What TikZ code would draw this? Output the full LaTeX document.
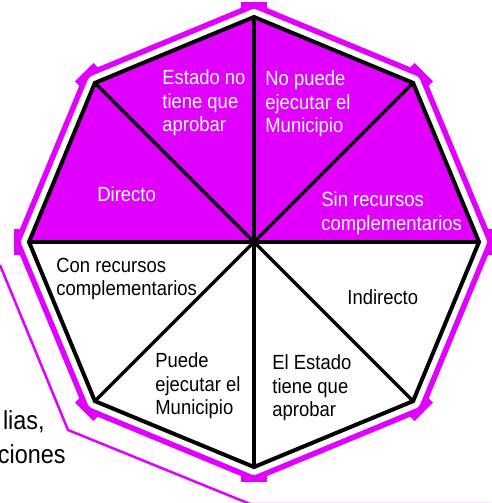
\documentclass[tikz,border=0pt]{standalone}
\usepackage{fontspec}
\setmainfont[FakeStretch=0.9]{Liberation Sans}
\usepackage{tikz}
\tikzset{every picture/.style={line width=0.75pt}}
\definecolor{octmagenta}{RGB}{225,0,255}

\tikzset{
  rim/.style={draw=octmagenta, line width=5.5pt, line join=miter},
  notch/.style={draw=octmagenta, line width=7.5pt},
  spoke/.style={draw=black, line width=3.5pt},
  sectortext/.style={font=\fontsize{20.5}{23.5}\selectfont, align=left, inner sep=0pt, anchor=west},
  sidetext/.style={font=\fontsize{26}{34}\selectfont, inner sep=0pt, anchor=base east},
}

\begin{document}
\begin{tikzpicture}[x=1pt,y=1pt,yscale=-1,xscale=1]
	\useasboundingbox (0,0) rectangle (491,503);
	
	%Points of the octagon
	\coordinate (c) at (254,242);
	\coordinate (vt) at (254,17);
	\coordinate (vur) at (413.1,82.9);
	\coordinate (vr) at (479,242);
	\coordinate (vlr) at (413.1,401.1);
	\coordinate (vb) at (254,467);
	\coordinate (vll) at (94.9,401.1);
	\coordinate (vl) at (29,242);
	\coordinate (vul) at (94.9,82.9);
	
	%Shape: Polyline (outer thin frame)
	\draw [draw=octmagenta, line width=2.5pt] (0,265) -- (68,430) -- (250,504) -- (491,504) ;
	
	%Shape: Polygon (outer rim)
	\draw [rim] (254,5.5) -- (421.2,74.8) -- (490.5,242) -- (421.2,409.2) -- (254,478.5) -- (86.8,409.2) -- (17.5,242) -- (86.8,74.8) -- cycle ;
	%Rim notches
	\draw [notch] (241,5.5) -- (267,5.5) ;
	\draw [notch] (241,478.5) -- (267,478.5) ;
	\draw [notch] (17.5,229) -- (17.5,255) ;
	\draw [notch] (490.5,229) -- (490.5,255) ;
	\draw [notch] (412,65.6) -- (430.4,84) ;
	\draw [notch] (77.6,400) -- (96,418.4) ;
	\draw [notch] (77.6,84) -- (96,65.6) ;
	\draw [notch] (412,418.4) -- (430.4,400) ;
	
	%Shape: Polygon (upper half filled)
	\fill [octmagenta] (vl) -- (vul) -- (vt) -- (vur) -- (vr) -- (c) -- cycle ;
	
	%Spokes
	\draw [spoke] (c) -- (vt) ;
	\draw [spoke] (c) -- (vur) ;
	\draw [spoke] (c) -- (vr) ;
	\draw [spoke] (c) -- (vlr) ;
	\draw [spoke] (c) -- (vb) ;
	\draw [spoke] (c) -- (vll) ;
	\draw [spoke] (c) -- (vl) ;
	\draw [spoke] (c) -- (vul) ;
	
	%Shape: Polygon (octagon outline)
	\draw [line width=4pt, line join=miter] (vt) -- (vur) -- (vr) -- (vlr) -- (vb) -- (vll) -- (vl) -- (vul) -- cycle ;
	
	% Text Node
	\node [sectortext, text=white] (estadono) at (162,103) {Estado no\\tiene que\\aprobar};
	% Text Node
	\node [sectortext, text=white] (nopuede) at (265,104) {No puede\\ejecutar el\\Municipio};
	% Text Node
	\node [sectortext, text=white] (directo) at (97,194) {Directo};
	% Text Node
	\node [sectortext, text=white] (sinrec) at (321,213) {Sin recursos\\complementarios};
	% Text Node
	\node [sectortext] (conrec) at (56,279) {Con recursos\\complementarios};
	% Text Node
	\node [sectortext] (indirecto) at (347,297) {Indirecto};
	% Text Node
	\node [sectortext] (puede) at (155,386) {Puede\\ejecutar el\\Municipio};
	% Text Node
	\node [sectortext] (elestado) at (272,388) {El Estado\\tiene que\\aprobar};
	% Text Node
	\node [sidetext] (lias) at (45,429) {lias,};
	% Text Node
	\node [sidetext] (ciones) at (66,463) {ciones};
\end{tikzpicture}
\end{document}
